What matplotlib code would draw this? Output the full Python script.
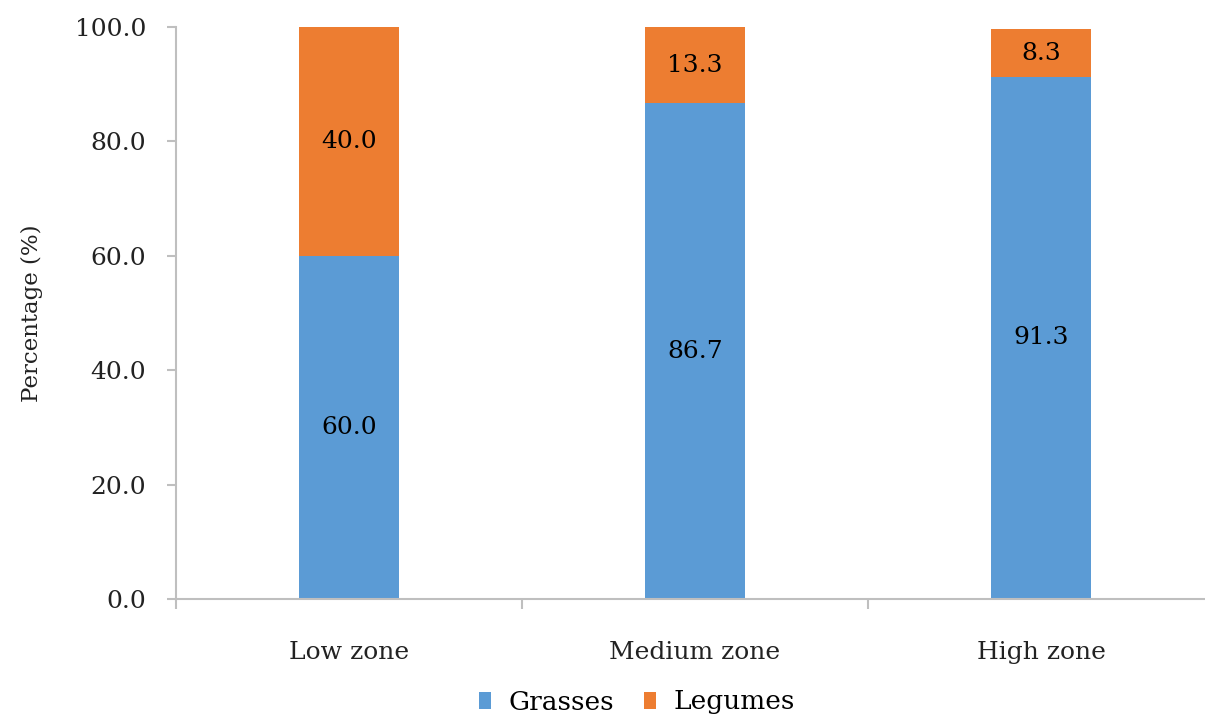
import numpy as np
import matplotlib
matplotlib.use("Agg")
import matplotlib.pyplot as plt

# ---------------------------------------------
# DATA
# ---------------------------------------------
zones = ["Low zone", "Medium zone", "High zone"]
grasses = [60.0, 86.7, 91.3]
legumes = [40.0, 13.3, 8.3]
y_ticks = [0, 20, 40, 60, 80, 100]

BLUE = "#5B9BD5"
ORANGE = "#ED7D31"
AXIS_GRAY = "#BFBFBF"

plt.rcParams["font.family"] = ["DejaVu Serif"]

fig = plt.figure(figsize=(12.05, 7.16), dpi=100)
# axes run slightly past the right edge, like the original export
ax = fig.add_axes([176 / 1205, 1 - 599 / 716, (1214 - 176) / 1205, (599 - 27) / 716])

x = np.arange(len(zones))
bw = 0.29
b1 = ax.bar(x, grasses, width=bw, color=BLUE, label="Grasses")
b2 = ax.bar(x, legumes, width=bw, bottom=grasses, color=ORANGE, label="Legumes")

for i in range(len(zones)):
    ax.text(x[i], grasses[i] / 2, f"{grasses[i]:.1f}", ha="center", va="center",
            fontsize=18, color="black")
    ax.text(x[i], grasses[i] + legumes[i] / 2, f"{legumes[i]:.1f}", ha="center",
            va="center", fontsize=18, color="black")

ax.set_xlim(-0.5, len(zones) - 0.5)
ax.set_ylim(0, 100)
ax.set_yticks(y_ticks)
ax.set_yticklabels([f"{v:.1f}" for v in y_ticks], fontsize=18, color="#222222")

# category labels centred, tick marks on the boundaries between categories
ax.set_xticks(x)
ax.set_xticklabels(zones, fontsize=18, color="#222222")
ax.tick_params(axis="x", length=0, pad=30)
ax.set_xticks(np.arange(-0.5, len(zones)), minor=True)
ax.tick_params(axis="x", which="minor", length=7, color=AXIS_GRAY, width=1.5)
ax.tick_params(axis="y", length=6.5, color=AXIS_GRAY, width=1.5, pad=15)

for side in ["top", "right"]:
    ax.spines[side].set_visible(False)
for side in ["left", "bottom"]:
    ax.spines[side].set_color(AXIS_GRAY)
    ax.spines[side].set_linewidth(1.5)

ax.set_ylabel("Percentage (%)", fontsize=16.5, color="#222222")
ax.yaxis.set_label_coords((43 - 176) / 1038, 0.5)

fig.legend(handles=[b1, b2], loc="center", bbox_to_anchor=(637 / 1205, 1 - 702 / 716),
           ncol=2, frameon=False, fontsize=19, handlelength=0.45, handleheight=0.6,
           handletextpad=0.7, columnspacing=1.1)

fig.savefig("out.png", dpi=100)
